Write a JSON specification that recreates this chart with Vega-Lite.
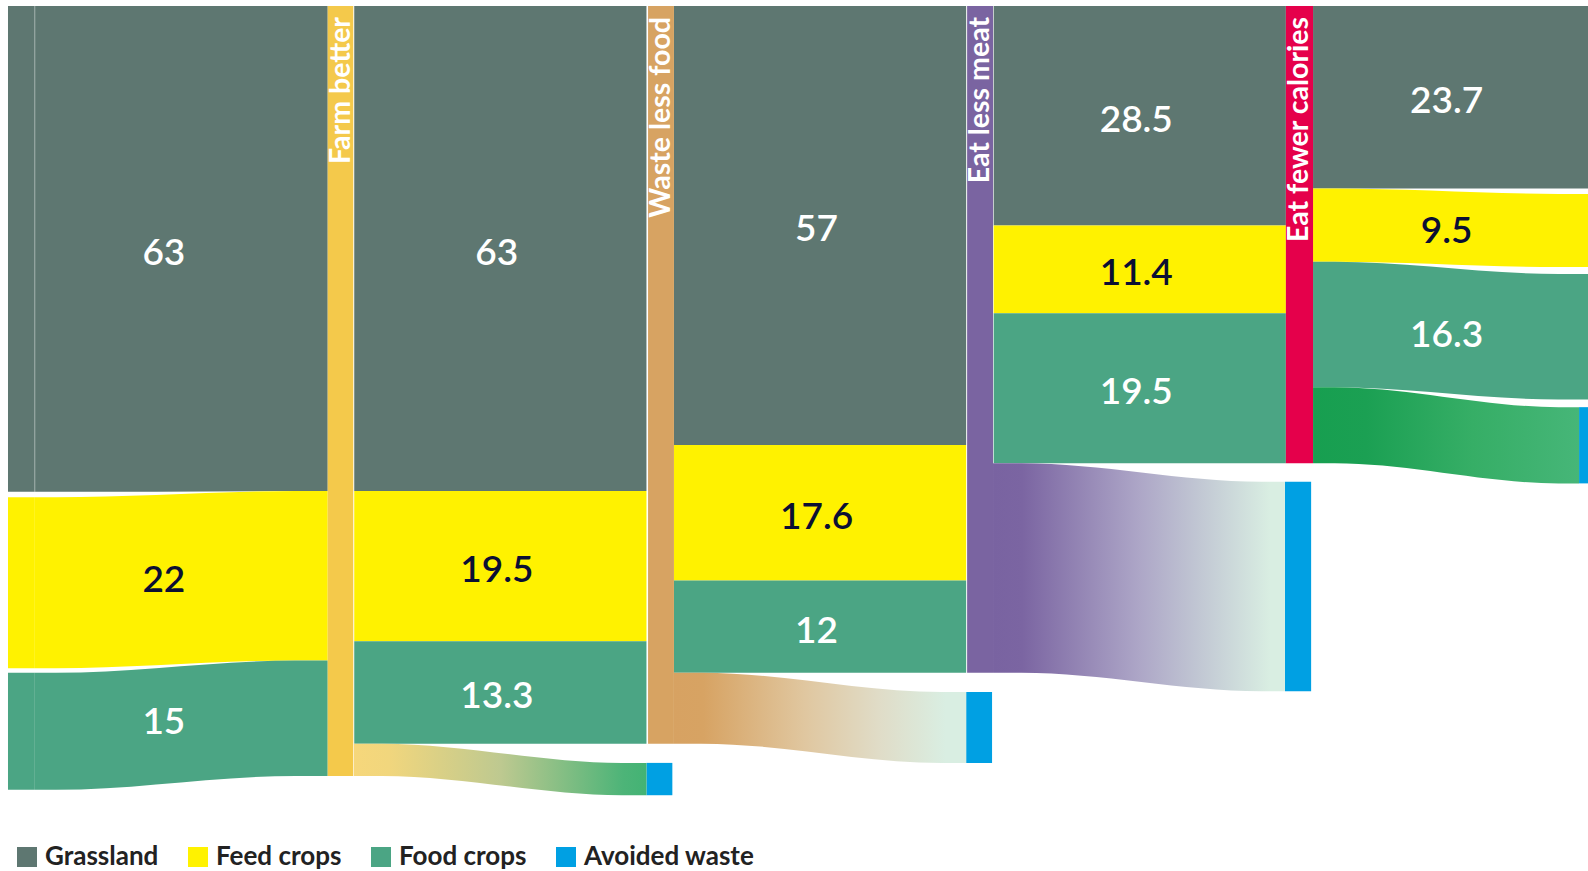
{
  "$schema": "https://vega.github.io/schema/vega-lite/v6.json",
  "width": 1588,
  "height": 871,
  "autosize": {"type": "fit", "contains": "padding"},
  "padding": 0,
  "background": "white",
  "config": {"view": {"stroke": null}, "font": "Lato"},
  "datasets": {
    "nodes": [
      {"stage": 0, "category": "Grassland", "x0": 0, "x1": 0.084, "y0": 0, "y1": 63.1},
      {"stage": 0, "category": "Feed crops", "x0": 0, "x1": 0.084, "y0": 63.8, "y1": 86.0},
      {"stage": 0, "category": "Food crops", "x0": 0, "x1": 0.084, "y0": 86.6, "y1": 101.8},
      {"stage": 1, "category": "Grassland", "x0": 1.083, "x1": 1.997, "y0": 0, "y1": 63},
      {"stage": 1, "category": "Feed crops", "x0": 1.083, "x1": 1.997, "y0": 63, "y1": 82.5},
      {"stage": 1, "category": "Food crops", "x0": 1.083, "x1": 1.997, "y0": 82.5, "y1": 95.8},
      {"stage": 2, "category": "Grassland", "x0": 2.083, "x1": 2.997, "y0": 0, "y1": 57},
      {"stage": 2, "category": "Feed crops", "x0": 2.083, "x1": 2.997, "y0": 57, "y1": 74.6},
      {"stage": 2, "category": "Food crops", "x0": 2.083, "x1": 2.997, "y0": 74.6, "y1": 86.6},
      {"stage": 3, "category": "Grassland", "x0": 3.083, "x1": 3.997, "y0": 0, "y1": 28.5},
      {"stage": 3, "category": "Feed crops", "x0": 3.083, "x1": 3.997, "y0": 28.5, "y1": 39.9},
      {"stage": 3, "category": "Food crops", "x0": 3.083, "x1": 3.997, "y0": 39.9, "y1": 59.4},
      {"stage": 1, "category": "Avoided waste", "x0": 1.997, "x1": 2.078, "y0": 98.3, "y1": 102.5},
      {"stage": 2, "category": "Avoided waste", "x0": 2.997, "x1": 3.078, "y0": 89.1, "y1": 98.3},
      {"stage": 3, "category": "Avoided waste", "x0": 3.994, "x1": 4.076, "y0": 61.8, "y1": 89.0},
      {"stage": 4, "category": "Avoided waste", "x0": 4.914, "x1": 4.942, "y0": 52.1, "y1": 62.0}
    ],
    "bars": [
      {"name": "Farm better", "x0": 1.0, "x1": 1.08, "y0": 0, "y1": 100},
      {"name": "Waste less food", "x0": 2.002, "x1": 2.083, "y0": 0, "y1": 95.8},
      {"name": "Eat less meat", "x0": 3.0, "x1": 3.081, "y0": 0, "y1": 86.6},
      {"name": "Eat fewer calories", "x0": 3.997, "x1": 4.082, "y0": 0, "y1": 59.4}
    ],
    "catflows": [
      {"flow": "s0g", "category": "Grassland", "x": 0.084, "y0": 0, "y1": 63.1},
      {"flow": "s0g", "category": "Grassland", "x": 0.15, "y0": 0, "y1": 63.1},
      {"flow": "s0g", "category": "Grassland", "x": 0.9, "y0": 0, "y1": 63},
      {"flow": "s0g", "category": "Grassland", "x": 1.0, "y0": 0, "y1": 63},
      {"flow": "s0f", "category": "Feed crops", "x": 0.084, "y0": 63.8, "y1": 86.0},
      {"flow": "s0f", "category": "Feed crops", "x": 0.15, "y0": 63.8, "y1": 86.0},
      {"flow": "s0f", "category": "Feed crops", "x": 0.9, "y0": 63, "y1": 85},
      {"flow": "s0f", "category": "Feed crops", "x": 1.0, "y0": 63, "y1": 85},
      {"flow": "s0o", "category": "Food crops", "x": 0.084, "y0": 86.6, "y1": 101.8},
      {"flow": "s0o", "category": "Food crops", "x": 0.15, "y0": 86.6, "y1": 101.8},
      {"flow": "s0o", "category": "Food crops", "x": 0.9, "y0": 85, "y1": 100},
      {"flow": "s0o", "category": "Food crops", "x": 1.0, "y0": 85, "y1": 100},
      {"flow": "s4g", "category": "Grassland", "x": 4.082, "y0": 0, "y1": 23.7},
      {"flow": "s4g", "category": "Grassland", "x": 4.15, "y0": 0, "y1": 23.7},
      {"flow": "s4g", "category": "Grassland", "x": 4.85, "y0": 0, "y1": 23.7},
      {"flow": "s4g", "category": "Grassland", "x": 4.942, "y0": 0, "y1": 23.7},
      {"flow": "s4f", "category": "Feed crops", "x": 4.082, "y0": 23.7, "y1": 33.2},
      {"flow": "s4f", "category": "Feed crops", "x": 4.15, "y0": 23.7, "y1": 33.2},
      {"flow": "s4f", "category": "Feed crops", "x": 4.85, "y0": 24.4, "y1": 33.9},
      {"flow": "s4f", "category": "Feed crops", "x": 4.942, "y0": 24.4, "y1": 33.9},
      {"flow": "s4o", "category": "Food crops", "x": 4.082, "y0": 33.2, "y1": 49.5},
      {"flow": "s4o", "category": "Food crops", "x": 4.15, "y0": 33.2, "y1": 49.5},
      {"flow": "s4o", "category": "Food crops", "x": 4.85, "y0": 34.8, "y1": 51.1},
      {"flow": "s4o", "category": "Food crops", "x": 4.942, "y0": 34.8, "y1": 51.1}
    ],
    "gradflows": [
      {"flow": "s1", "x": 1.082, "y0": 95.8, "y1": 100},
      {"flow": "s1", "x": 1.17, "y0": 95.8, "y1": 100},
      {"flow": "s1", "x": 1.92, "y0": 98.3, "y1": 102.5},
      {"flow": "s1", "x": 1.997, "y0": 98.3, "y1": 102.5},
      {"flow": "s2", "x": 2.083, "y0": 86.6, "y1": 95.8},
      {"flow": "s2", "x": 2.17, "y0": 86.6, "y1": 95.8},
      {"flow": "s2", "x": 2.92, "y0": 89.1, "y1": 98.3},
      {"flow": "s2", "x": 2.997, "y0": 89.1, "y1": 98.3},
      {"flow": "s3", "x": 3.081, "y0": 59.4, "y1": 86.6},
      {"flow": "s3", "x": 3.17, "y0": 59.4, "y1": 86.6},
      {"flow": "s3", "x": 3.92, "y0": 61.8, "y1": 89.0},
      {"flow": "s3", "x": 3.994, "y0": 61.8, "y1": 89.0},
      {"flow": "s4", "x": 4.082, "y0": 49.5, "y1": 59.4},
      {"flow": "s4", "x": 4.15, "y0": 49.5, "y1": 59.4},
      {"flow": "s4", "x": 4.85, "y0": 52.1, "y1": 62.0},
      {"flow": "s4", "x": 4.914, "y0": 52.1, "y1": 62.0}
    ],
    "labels": [
      {"label": "63", "category": "Grassland", "x0": 0, "x1": 1, "y0": 0, "y1": 63},
      {"label": "22", "category": "Feed crops", "x0": 0, "x1": 1, "y0": 63, "y1": 85},
      {"label": "15", "category": "Food crops", "x0": 0, "x1": 1, "y0": 85, "y1": 100},
      {"label": "63", "category": "Grassland", "x0": 1.083, "x1": 2, "y0": 0, "y1": 63},
      {"label": "19.5", "category": "Feed crops", "x0": 1.083, "x1": 2, "y0": 63, "y1": 82.5},
      {"label": "13.3", "category": "Food crops", "x0": 1.083, "x1": 2, "y0": 82.5, "y1": 95.8},
      {"label": "57", "category": "Grassland", "x0": 2.083, "x1": 3, "y0": 0, "y1": 57},
      {"label": "17.6", "category": "Feed crops", "x0": 2.083, "x1": 3, "y0": 57, "y1": 74.6},
      {"label": "12", "category": "Food crops", "x0": 2.083, "x1": 3, "y0": 74.6, "y1": 86.6},
      {"label": "28.5", "category": "Grassland", "x0": 3.083, "x1": 4, "y0": 0, "y1": 28.5},
      {"label": "11.4", "category": "Feed crops", "x0": 3.083, "x1": 4, "y0": 28.5, "y1": 39.9},
      {"label": "19.5", "category": "Food crops", "x0": 3.083, "x1": 4, "y0": 39.9, "y1": 59.4},
      {"label": "23.7", "category": "Grassland", "x0": 4.083, "x1": 4.942, "y0": 0, "y1": 23.7},
      {"label": "9.5", "category": "Feed crops", "x0": 4.083, "x1": 4.942, "y0": 24, "y1": 33.5},
      {"label": "16.3", "category": "Food crops", "x0": 4.083, "x1": 4.942, "y0": 34, "y1": 50.3}
    ]
  },
  "layer": [
    {
      "data": {"name": "catflows"},
      "mark": {"type": "area", "interpolate": "monotone", "opacity": 1},
      "encoding": {
        "x": {"field": "x", "type": "quantitative", "axis": null, "scale": {"domain": [-0.025, 4.942], "nice": false, "zero": false}},
        "y": {"field": "y0", "type": "quantitative", "axis": null, "stack": null, "scale": {"domain": [-0.779, 112.34], "reverse": true, "nice": false, "zero": false}},
        "y2": {"field": "y1"},
        "detail": {"field": "flow"},
        "color": {"field": "category", "type": "nominal", "title": null,
          "scale": {"domain": ["Grassland", "Feed crops", "Food crops", "Avoided waste"], "range": ["#5E7771", "#FFF200", "#4BA584", "#00A0E3"]},
          "legend": {"orient": "none", "legendX": 14, "legendY": 844, "direction": "horizontal", "symbolType": "square", "symbolSize": 400, "symbolStrokeWidth": 0, "symbolOpacity": 1, "labelFontSize": 26, "labelFont": "Lato", "labelFontWeight": "bold", "labelColor": "#222222", "labelOffset": 5, "labelLimit": 400, "columnPadding": 26, "padding": 0}}
      }
    },
    {
      "data": {"name": "nodes"},
      "mark": {"type": "rect"},
      "encoding": {
        "x": {"field": "x0", "type": "quantitative", "axis": null, "scale": {"domain": [-0.025, 4.942], "nice": false, "zero": false}},
        "x2": {"field": "x1"},
        "y": {"field": "y0", "type": "quantitative", "axis": null, "scale": {"domain": [-0.779, 112.34], "reverse": true, "nice": false, "zero": false}},
        "y2": {"field": "y1"},
        "color": {"field": "category", "type": "nominal", "title": null,
          "scale": {"domain": ["Grassland", "Feed crops", "Food crops", "Avoided waste"], "range": ["#5E7771", "#FFF200", "#4BA584", "#00A0E3"]},
          "legend": {"orient": "none", "legendX": 14, "legendY": 844, "direction": "horizontal", "symbolType": "square", "symbolSize": 400, "symbolStrokeWidth": 0, "symbolOpacity": 1, "labelFontSize": 26, "labelFont": "Lato", "labelFontWeight": "bold", "labelColor": "#222222", "labelOffset": 5, "labelLimit": 400, "columnPadding": 26, "padding": 0}}
      }
    },
    {
      "data": {"name": "nodes"},
      "transform": [{"filter": "datum.stage === 0 && datum.category === 'Grassland'"}],
      "mark": {"type": "rule", "color": "#FFFFFF", "opacity": 0.35, "strokeWidth": 1},
      "encoding": {
        "x": {"field": "x1", "type": "quantitative"},
        "y": {"field": "y0", "type": "quantitative"},
        "y2": {"field": "y1"}
      }
    },
    {
      "data": {"name": "bars"},
      "mark": {"type": "rect"},
      "encoding": {
        "x": {"field": "x0", "type": "quantitative"},
        "x2": {"field": "x1"},
        "y": {"field": "y0", "type": "quantitative"},
        "y2": {"field": "y1"},
        "color": {
          "condition": [
            {"test": "datum.name === 'Farm better'", "value": "#F4C94B"},
            {"test": "datum.name === 'Waste less food'", "value": "#D7A362"},
            {"test": "datum.name === 'Eat less meat'", "value": "#7A64A1"}
          ],
          "value": "#E5004B"
        }
      }
    },
    {
      "data": {"name": "gradflows"},
      "transform": [{"filter": "datum.flow === 's1'"}],
      "mark": {"type": "area", "interpolate": "monotone", "opacity": 1,
        "color": {"gradient": "linear", "x1": 0, "y1": 0, "x2": 1, "y2": 0,
          "stops": [{"offset": 0, "color": "#F6D77B"}, {"offset": 0.12, "color": "#F1D67D"}, {"offset": 0.5, "color": "#BEC990"}, {"offset": 0.92, "color": "#4DB478"}, {"offset": 1, "color": "#43B374"}]}},
      "encoding": {
        "x": {"field": "x", "type": "quantitative"},
        "y": {"field": "y0", "type": "quantitative", "stack": null},
        "y2": {"field": "y1"}
      }
    },
    {
      "data": {"name": "gradflows"},
      "transform": [{"filter": "datum.flow === 's2'"}],
      "mark": {"type": "area", "interpolate": "monotone", "opacity": 1,
        "color": {"gradient": "linear", "x1": 0, "y1": 0, "x2": 1, "y2": 0,
          "stops": [{"offset": 0, "color": "#D7A262"}, {"offset": 0.1, "color": "#D7A363"}, {"offset": 0.45, "color": "#E0C7A0"}, {"offset": 0.7, "color": "#E0DCC7"}, {"offset": 0.93, "color": "#D9EEE2"}, {"offset": 1, "color": "#D9EEE2"}]}},
      "encoding": {
        "x": {"field": "x", "type": "quantitative"},
        "y": {"field": "y0", "type": "quantitative", "stack": null},
        "y2": {"field": "y1"}
      }
    },
    {
      "data": {"name": "gradflows"},
      "transform": [{"filter": "datum.flow === 's3'"}],
      "mark": {"type": "area", "interpolate": "monotone", "opacity": 1,
        "color": {"gradient": "linear", "x1": 0, "y1": 0, "x2": 1, "y2": 0,
          "stops": [{"offset": 0, "color": "#7963A1"}, {"offset": 0.1, "color": "#7B65A2"}, {"offset": 0.5, "color": "#ADA6C7"}, {"offset": 0.95, "color": "#D9EEE2"}, {"offset": 1, "color": "#D9EEE2"}]}},
      "encoding": {
        "x": {"field": "x", "type": "quantitative"},
        "y": {"field": "y0", "type": "quantitative", "stack": null},
        "y2": {"field": "y1"}
      }
    },
    {
      "data": {"name": "gradflows"},
      "transform": [{"filter": "datum.flow === 's4'"}],
      "mark": {"type": "area", "interpolate": "monotone", "opacity": 1,
        "color": {"gradient": "linear", "x1": 0, "y1": 0, "x2": 1, "y2": 0,
          "stops": [{"offset": 0, "color": "#179F50"}, {"offset": 0.2, "color": "#1BA053"}, {"offset": 0.6, "color": "#36AE66"}, {"offset": 1, "color": "#46B678"}]}},
      "encoding": {
        "x": {"field": "x", "type": "quantitative"},
        "y": {"field": "y0", "type": "quantitative", "stack": null},
        "y2": {"field": "y1"}
      }
    },
    {
      "data": {"name": "labels"},
      "transform": [
        {"calculate": "(datum.x0 + datum.x1) / 2", "as": "xm"},
        {"calculate": "(datum.y0 + datum.y1) / 2", "as": "ym"}
      ],
      "mark": {"type": "text", "align": "center", "baseline": "middle", "dx": -4, "dy": 5, "font": "Lato", "fontSize": 37, "fontWeight": 600},
      "encoding": {
        "x": {"field": "xm", "type": "quantitative"},
        "y": {"field": "ym", "type": "quantitative"},
        "text": {"field": "label", "type": "nominal"},
        "color": {"condition": {"test": "datum.category === 'Feed crops'", "value": "#0B0F33"}, "value": "#FFFFFF"}
      }
    },
    {
      "data": {"name": "bars"},
      "mark": {"type": "text", "angle": 270, "align": "right", "baseline": "middle", "dx": -11, "dy": 13, "font": "Lato", "fontSize": 28.5, "fontWeight": "bold", "color": "#FFFFFF"},
      "encoding": {
        "x": {"field": "x0", "type": "quantitative"},
        "y": {"field": "y0", "type": "quantitative"},
        "text": {"field": "name", "type": "nominal"}
      }
    }
  ]
}
